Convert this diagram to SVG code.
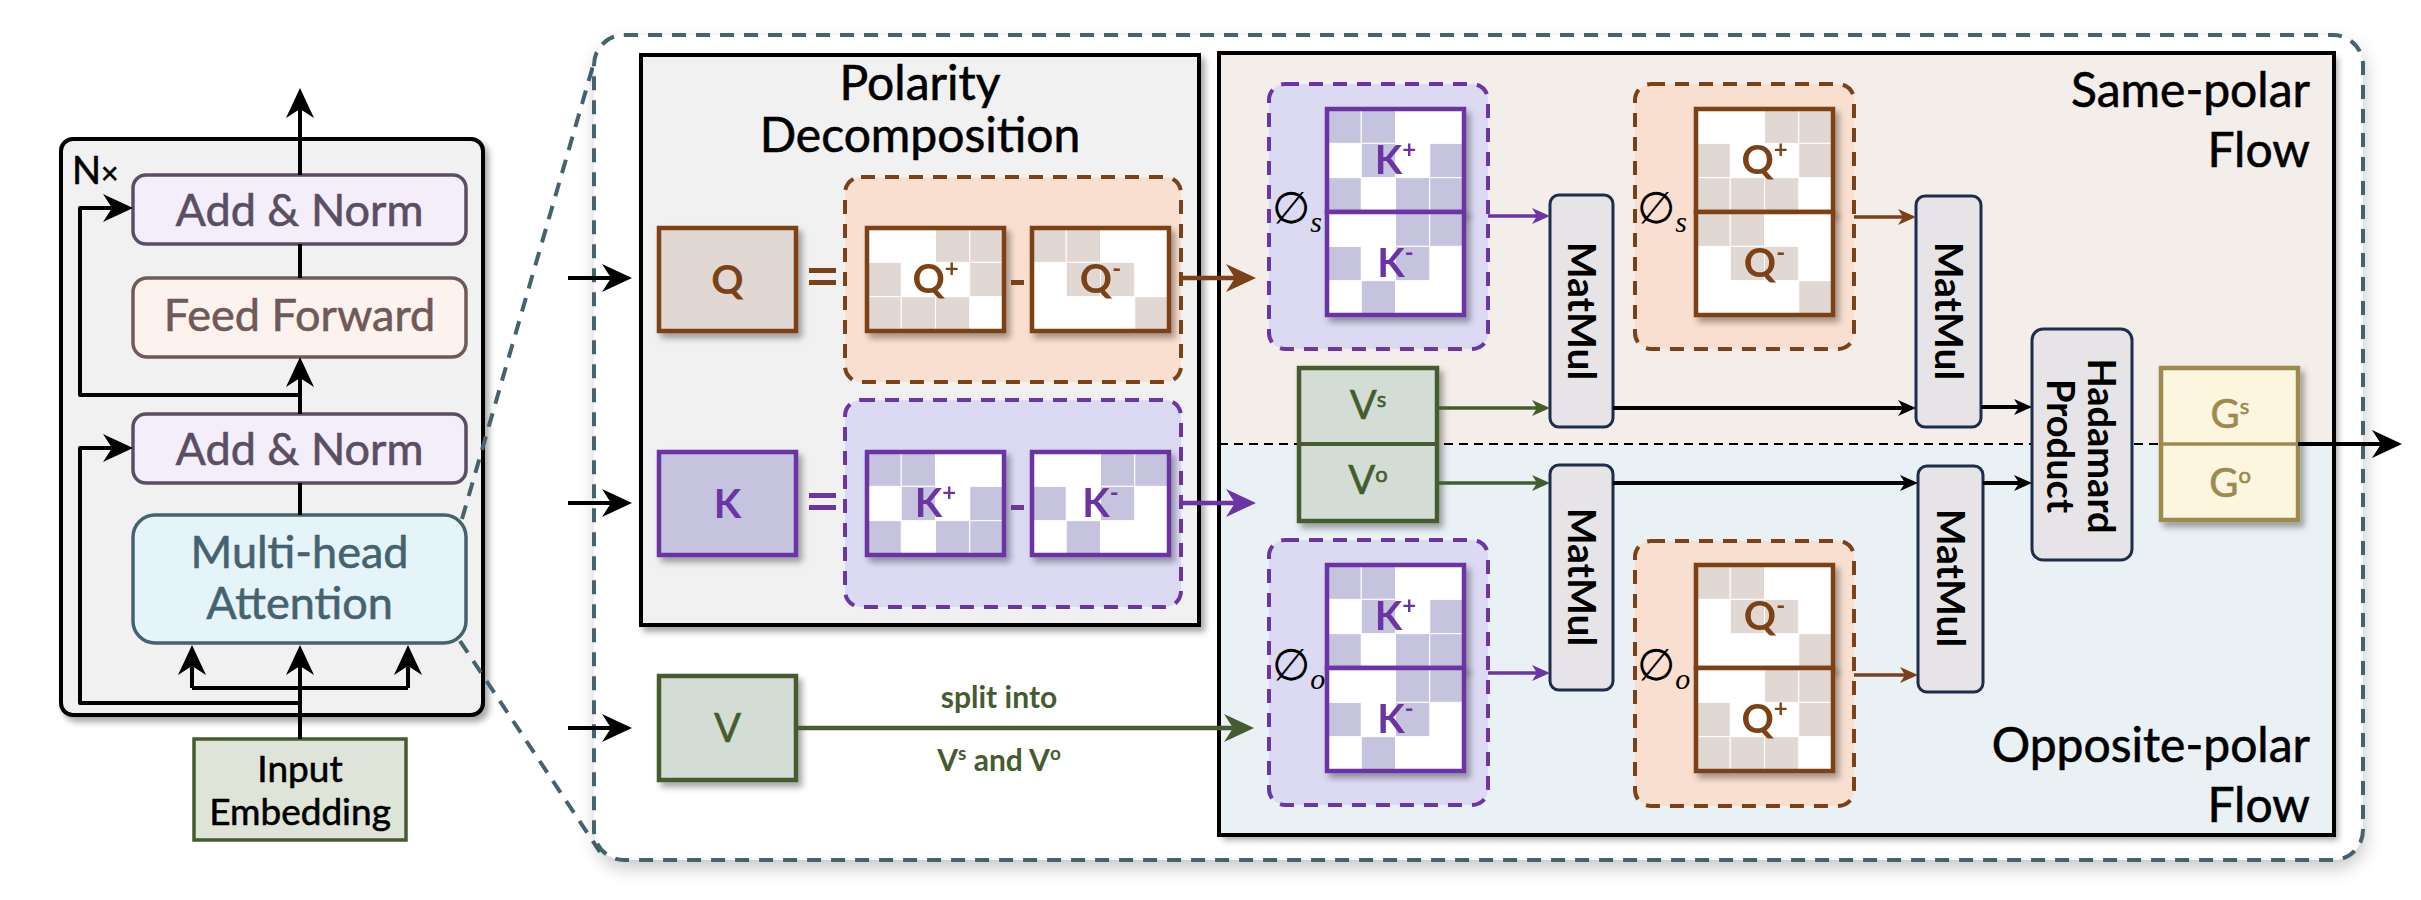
<svg xmlns="http://www.w3.org/2000/svg" xmlns:xlink="http://www.w3.org/1999/xlink" width="2421" height="900" viewBox="0 0 2421 900">
<defs>
<style>
text{font-family:Lato,"Open Sans","Liberation Sans",sans-serif;}
.med{stroke-width:0.6;stroke-linejoin:round;}
.ln{fill:none;stroke:#000;stroke-width:4;stroke-linejoin:round;}
.lnb{fill:none;stroke:#7b4219;stroke-width:4.5;}
.lnp{fill:none;stroke:#6b36a3;stroke-width:4.5;}
.lng{fill:none;stroke:#455c2f;stroke-width:4.5;}
.sb{fill:none;stroke:#000;stroke-width:4;}
.sbr{fill:none;stroke:#7b4219;stroke-width:3.5;}
.spu{fill:none;stroke:#6b36a3;stroke-width:3.5;}
.sgr{fill:none;stroke:#455c2f;stroke-width:3.5;}
.zoom{fill:none;stroke:#46626f;stroke-width:4;stroke-dasharray:14 10;}
.grpQ{fill:#f9dfcf;stroke:#7b4219;stroke-width:4;stroke-dasharray:14 10;}
.grpK{fill:#dcdaf3;stroke:#6b36a3;stroke-width:4;stroke-dasharray:14 10;}
.sq{fill:#e1d8d3;stroke:#fff;stroke-width:1;}
.sk{fill:#c6c3de;stroke:#fff;stroke-width:1;}
.mm{fill:#e6e4e6;stroke:#1f2d4d;stroke-width:3;}
.lblQ{fill:#7b4219;font-weight:700;font-size:40px;text-anchor:middle;}
.lblK{fill:#6b36a3;font-weight:700;font-size:40px;text-anchor:middle;}
.lblV{fill:#455c2f;font-size:40px;text-anchor:middle;stroke:#455c2f;stroke-width:0.6;}
.phi{font-family:"DejaVu Sans",sans-serif;font-size:44px;font-style:italic;fill:#000;}
.title{font-size:48px;fill:#000;stroke:#000;stroke-width:0.6;}
</style>
<filter id="sh" x="-20%" y="-20%" width="150%" height="150%"><feDropShadow dx="4" dy="5" stdDeviation="3" flood-color="#000" flood-opacity="0.35"/></filter>
<filter id="shBig" x="-5%" y="-10%" width="110%" height="125%"><feDropShadow dx="2" dy="8" stdDeviation="9" flood-color="#000" flood-opacity="0.22"/></filter>
<marker id="aBk" markerUnits="userSpaceOnUse" markerWidth="30" markerHeight="30" viewBox="0 0 30 30" refX="22" refY="15" orient="auto"><path d="M0,1 L30,15 L0,29 L9,15 z" fill="#000"/></marker>
<marker id="aBr" markerUnits="userSpaceOnUse" markerWidth="30" markerHeight="30" viewBox="0 0 30 30" refX="22" refY="15" orient="auto"><path d="M0,1 L30,15 L0,29 L9,15 z" fill="#7b4219"/></marker>
<marker id="aPu" markerUnits="userSpaceOnUse" markerWidth="30" markerHeight="30" viewBox="0 0 30 30" refX="22" refY="15" orient="auto"><path d="M0,1 L30,15 L0,29 L9,15 z" fill="#6b36a3"/></marker>
<marker id="aGr" markerUnits="userSpaceOnUse" markerWidth="30" markerHeight="30" viewBox="0 0 30 30" refX="22" refY="15" orient="auto"><path d="M0,1 L30,15 L0,29 L9,15 z" fill="#455c2f"/></marker>
<marker id="sBk" markerUnits="userSpaceOnUse" markerWidth="18" markerHeight="18" viewBox="0 0 18 18" refX="13" refY="9" orient="auto"><path d="M0,1 L18,9 L0,17 L5,9 z" fill="#000"/></marker>
<marker id="sBr" markerUnits="userSpaceOnUse" markerWidth="18" markerHeight="18" viewBox="0 0 18 18" refX="13" refY="9" orient="auto"><path d="M0,1 L18,9 L0,17 L5,9 z" fill="#7b4219"/></marker>
<marker id="sPu" markerUnits="userSpaceOnUse" markerWidth="18" markerHeight="18" viewBox="0 0 18 18" refX="13" refY="9" orient="auto"><path d="M0,1 L18,9 L0,17 L5,9 z" fill="#6b36a3"/></marker>
<marker id="sGr" markerUnits="userSpaceOnUse" markerWidth="18" markerHeight="18" viewBox="0 0 18 18" refX="13" refY="9" orient="auto"><path d="M0,1 L18,9 L0,17 L5,9 z" fill="#455c2f"/></marker>
<g id="mQp">
<rect width="137" height="103" fill="#fff"/>
<rect class="sq" x="68.5" y="0" width="34.25" height="34.33"/><rect class="sq" x="102.75" y="0" width="34.25" height="34.33"/>
<rect class="sq" x="0" y="34.33" width="34.25" height="34.33"/><rect class="sq" x="102.75" y="34.33" width="34.25" height="34.33"/>
<rect class="sq" x="0" y="68.67" width="34.25" height="34.33"/><rect class="sq" x="34.25" y="68.67" width="34.25" height="34.33"/><rect class="sq" x="68.5" y="68.67" width="34.25" height="34.33"/>
<rect width="137" height="103" fill="none" stroke="#7b4219" stroke-width="4.5"/>
<text class="lblQ" x="68.5" y="65">Q<tspan font-size="24" dy="-16">+</tspan></text>
</g>
<g id="mQm">
<rect width="137" height="103" fill="#fff"/>
<rect class="sq" x="0" y="0" width="34.25" height="34.33"/><rect class="sq" x="34.25" y="0" width="34.25" height="34.33"/>
<rect class="sq" x="34.25" y="34.33" width="34.25" height="34.33"/><rect class="sq" x="68.5" y="34.33" width="34.25" height="34.33"/>
<rect class="sq" x="102.75" y="68.67" width="34.25" height="34.33"/>
<rect width="137" height="103" fill="none" stroke="#7b4219" stroke-width="4.5"/>
<text class="lblQ" x="68.5" y="65">Q<tspan font-size="24" dy="-16">-</tspan></text>
</g>
<g id="mKp">
<rect width="137" height="103" fill="#fff"/>
<rect class="sk" x="0" y="0" width="34.25" height="34.33"/><rect class="sk" x="34.25" y="0" width="34.25" height="34.33"/>
<rect class="sk" x="34.25" y="34.33" width="34.25" height="34.33"/><rect class="sk" x="102.75" y="34.33" width="34.25" height="34.33"/>
<rect class="sk" x="0" y="68.67" width="34.25" height="34.33"/><rect class="sk" x="68.5" y="68.67" width="34.25" height="34.33"/><rect class="sk" x="102.75" y="68.67" width="34.25" height="34.33"/>
<rect width="137" height="103" fill="none" stroke="#6b36a3" stroke-width="4.5"/>
<text class="lblK" x="68.5" y="65">K<tspan font-size="24" dy="-16">+</tspan></text>
</g>
<g id="mKm">
<rect width="137" height="103" fill="#fff"/>
<rect class="sk" x="68.5" y="0" width="34.25" height="34.33"/><rect class="sk" x="102.75" y="0" width="34.25" height="34.33"/>
<rect class="sk" x="0" y="34.33" width="34.25" height="34.33"/><rect class="sk" x="68.5" y="34.33" width="34.25" height="34.33"/>
<rect class="sk" x="34.25" y="68.67" width="34.25" height="34.33"/>
<rect width="137" height="103" fill="none" stroke="#6b36a3" stroke-width="4.5"/>
<text class="lblK" x="68.5" y="65">K<tspan font-size="24" dy="-16">-</tspan></text>
</g>
</defs>

<rect width="2421" height="900" fill="#fff"/>

<!-- Left encoder panel -->
<g id="encoder-block">
<rect x="61" y="139" width="422" height="576" rx="12" fill="#f1f1f1" stroke="#000" stroke-width="4" filter="url(#sh)"/>
<text class="med" x="72" y="184" font-size="38" fill="#000" stroke="#000">N<tspan font-size="30">×</tspan></text>
</g>
<g id="add-norm-2">
<rect x="133" y="175" width="333" height="69" rx="13" fill="#f3eef9" stroke="#5b4e64" stroke-width="3.5"/>
<text class="med" x="299.5" y="226" font-size="45" fill="#5b4e64" stroke="#5b4e64" text-anchor="middle">Add &amp; Norm</text>
</g>
<g id="feed-forward">
<rect x="133" y="278" width="333" height="79" rx="14" fill="#fcf3ef" stroke="#6f5a5a" stroke-width="3.5"/>
<text class="med" x="299.5" y="331" font-size="45" fill="#6f5959" stroke="#6f5959" text-anchor="middle">Feed Forward</text>
</g>
<g id="add-norm-1">
<rect x="133" y="414" width="333" height="69" rx="13" fill="#f3eef9" stroke="#5b4e64" stroke-width="3.5"/>
<text class="med" x="299.5" y="465" font-size="45" fill="#5b4e64" stroke="#5b4e64" text-anchor="middle">Add &amp; Norm</text>
</g>
<g id="multi-head-attention">
<rect x="133" y="515" width="333" height="128" rx="22" fill="#e4f4f9" stroke="#46626f" stroke-width="3.5"/>
<text class="med" x="299.5" y="568" font-size="45" fill="#46626f" stroke="#46626f" text-anchor="middle">Multi-head</text>
<text class="med" x="299.5" y="619" font-size="45" fill="#46626f" stroke="#46626f" text-anchor="middle">Attention</text>
</g>
<g id="input-embedding">
<rect x="194" y="739" width="212" height="101" fill="#dfe4d9" stroke="#455c2f" stroke-width="3.5"/>
<text class="med" x="300" y="782" font-size="37" fill="#000" stroke="#000" text-anchor="middle">Input</text>
<text class="med" x="300" y="825" font-size="37" fill="#000" stroke="#000" text-anchor="middle">Embedding</text>
</g>

<!-- zoom lines -->
<g id="zoom-lines">
<path class="zoom" d="M462,519 L597,52"/>
<path class="zoom" d="M460,641 L600,852"/>
</g>

<!-- big dashed container -->
<g id="detail-panel">
<rect x="594" y="35" width="1769" height="825" rx="30" fill="#fff" filter="url(#shBig)"/>
<rect x="594" y="35" width="1769" height="825" rx="30" fill="none" stroke="#46626f" stroke-width="4" stroke-dasharray="14 10"/>
</g>

<!-- Polarity decomposition box -->
<g id="polarity-decomposition">
<rect x="641" y="55" width="558" height="570" fill="#f1f1f1" stroke="#000" stroke-width="4" filter="url(#sh)"/>
<text class="title" x="920" y="100" font-size="41" text-anchor="middle">Polarity</text>
<text class="title" x="920" y="152" font-size="41" text-anchor="middle">Decomposition</text>
</g>

<!-- Flow box -->
<g id="flow-panel">
<rect x="1219" y="53" width="1115" height="782" fill="#f3eeea" filter="url(#sh)"/>
<rect x="1219" y="444" width="1115" height="391" fill="#e9f1f5"/>
<line x1="1219" y1="444" x2="2334" y2="444" stroke="#000" stroke-width="2" stroke-dasharray="9 6"/>
<rect x="1219" y="53" width="1115" height="782" fill="none" stroke="#000" stroke-width="4"/>
<text class="title" x="2310" y="107" text-anchor="end">Same-polar</text>
<text class="title" x="2310" y="167" text-anchor="end">Flow</text>
<text class="title" x="2310" y="762" text-anchor="end">Opposite-polar</text>
<text class="title" x="2310" y="822" text-anchor="end">Flow</text>
</g>

<!-- Q row -->
<g id="q-box">
<rect x="659" y="228" width="137" height="103" fill="#e1d8d3" stroke="#7b4219" stroke-width="4.5" filter="url(#sh)"/>
<text class="lblQ" x="727.5" y="294" font-size="42">Q</text>
<rect x="809" y="268" width="27" height="5" fill="#7b4219"/><rect x="809" y="280" width="27" height="5" fill="#7b4219"/>
</g>
<g id="q-decomposition">
<rect class="grpQ" x="845" y="177" width="336" height="205" rx="16"/>
<use xlink:href="#mQp" x="867" y="228" filter="url(#sh)"/>
<rect x="1011" y="280" width="13" height="5" fill="#7b4219"/>
<use xlink:href="#mQm" x="1032" y="228" filter="url(#sh)"/>
</g>

<!-- K row -->
<g id="k-box">
<rect x="659" y="452" width="137" height="103" fill="#c6c3de" stroke="#6b36a3" stroke-width="4.5" filter="url(#sh)"/>
<text class="lblK" x="727.5" y="518" font-size="42">K</text>
<rect x="809" y="493" width="27" height="5" fill="#6b36a3"/><rect x="809" y="505" width="27" height="5" fill="#6b36a3"/>
</g>
<g id="k-decomposition">
<rect class="grpK" x="845" y="400" width="336" height="207" rx="16"/>
<use xlink:href="#mKp" x="867" y="452" filter="url(#sh)"/>
<rect x="1011" y="505" width="13" height="5" fill="#6b36a3"/>
<use xlink:href="#mKm" x="1032" y="452" filter="url(#sh)"/>
</g>

<!-- V -->
<g id="v-box">
<rect x="659" y="676" width="137" height="104" fill="#d4ddd5" stroke="#455c2f" stroke-width="4.5" filter="url(#sh)"/>
<text class="lblV" x="727.5" y="742" font-size="42">V</text>
</g>
<g id="split-label">
<text x="999" y="708" font-size="30" font-weight="700" fill="#455c2f" text-anchor="middle">split into</text>
<text x="999" y="771" font-size="30" font-weight="700" fill="#455c2f" text-anchor="middle">V<tspan font-size="19" dy="-11">s</tspan><tspan dy="11"> and V</tspan><tspan font-size="19" dy="-11">o</tspan></text>
</g>

<!-- Same-polar flow nodes -->
<g id="phi-s-k">
<rect class="grpK" x="1269" y="84" width="219" height="265" rx="16"/>
<use xlink:href="#mKp" x="1327" y="109" filter="url(#sh)"/>
<use xlink:href="#mKm" x="1327" y="212" filter="url(#sh)"/>
<text class="phi" x="1272" y="223">∅<tspan font-family="Liberation Serif,serif" font-size="30" dy="9">s</tspan></text>
</g>
<g id="phi-s-q">
<rect class="grpQ" x="1635" y="84" width="219" height="265" rx="16"/>
<use xlink:href="#mQp" x="1696" y="109" filter="url(#sh)"/>
<use xlink:href="#mQm" x="1696" y="212" filter="url(#sh)"/>
<text class="phi" x="1637" y="223">∅<tspan font-family="Liberation Serif,serif" font-size="30" dy="9">s</tspan></text>
</g>
<g id="v-split">
<rect x="1299" y="368" width="138" height="153" fill="#d4ddd5" stroke="#455c2f" stroke-width="4.5" filter="url(#sh)"/>
<line x1="1299" y1="444" x2="1437" y2="444" stroke="#455c2f" stroke-width="4"/>
<text class="lblV" x="1368" y="419">V<tspan font-size="22" dy="-12">s</tspan></text>
<text class="lblV" x="1368" y="494">V<tspan font-size="22" dy="-12">o</tspan></text>
</g>
<g id="matmul-1">
<rect class="mm" x="1550" y="195" width="63" height="232" rx="9"/>
<text transform="translate(1581.5,311) rotate(90)" x="0" y="14" font-size="39" font-weight="700" text-anchor="middle">MatMul</text>
</g>
<g id="matmul-2">
<rect class="mm" x="1916" y="196" width="65" height="231" rx="9"/>
<text transform="translate(1948.5,311) rotate(90)" x="0" y="14" font-size="39" font-weight="700" text-anchor="middle">MatMul</text>
</g>

<!-- Opposite-polar flow nodes -->
<g id="phi-o-k">
<rect class="grpK" x="1269" y="540" width="219" height="265" rx="16"/>
<use xlink:href="#mKp" x="1327" y="565" filter="url(#sh)"/>
<use xlink:href="#mKm" x="1327" y="668" filter="url(#sh)"/>
<text class="phi" x="1272" y="680">∅<tspan font-family="Liberation Serif,serif" font-size="30" dy="9">o</tspan></text>
</g>
<g id="phi-o-q">
<rect class="grpQ" x="1635" y="541" width="219" height="265" rx="16"/>
<use xlink:href="#mQm" x="1696" y="565" filter="url(#sh)"/>
<use xlink:href="#mQp" x="1696" y="668" filter="url(#sh)"/>
<text class="phi" x="1637" y="680">∅<tspan font-family="Liberation Serif,serif" font-size="30" dy="9">o</tspan></text>
</g>
<g id="matmul-3">
<rect class="mm" x="1550" y="465" width="63" height="225" rx="9"/>
<text transform="translate(1581.5,577) rotate(90)" x="0" y="14" font-size="39" font-weight="700" text-anchor="middle">MatMul</text>
</g>
<g id="matmul-4">
<rect class="mm" x="1918" y="466" width="65" height="226" rx="9"/>
<text transform="translate(1950.5,578) rotate(90)" x="0" y="14" font-size="39" font-weight="700" text-anchor="middle">MatMul</text>
</g>

<g id="hadamard-product">
<rect class="mm" x="2032" y="329" width="100" height="231" rx="11"/>
<text transform="translate(2082,446) rotate(90)" font-size="38" font-weight="700" text-anchor="middle"><tspan x="0" y="-6">Hadamard</tspan><tspan x="0" y="35">Product</tspan></text>
</g>
<g id="g-output">
<rect x="2161" y="368" width="137" height="152" fill="#fdf6de" stroke="#9c8a4f" stroke-width="4.5" filter="url(#sh)"/>
<line x1="2161" y1="444" x2="2298" y2="444" stroke="#9c8a4f" stroke-width="3.5"/>
<text class="med" x="2230" y="428" font-size="40" fill="#9c8a4f" stroke="#9c8a4f" text-anchor="middle">G<tspan font-size="22" dy="-14">s</tspan></text>
<text class="med" x="2230" y="497" font-size="40" fill="#9c8a4f" stroke="#9c8a4f" text-anchor="middle">G<tspan font-size="22" dy="-14">o</tspan></text>
</g>

<!-- connectors -->
<g id="connectors">
<path class="ln" d="M300,175 L300,96" marker-end="url(#aBk)"/>
<path class="ln" d="M300,278 L300,244"/>
<path class="ln" d="M300,414 L300,365" marker-end="url(#aBk)"/>
<path class="ln" d="M300,515 L300,483"/>
<path class="ln" d="M300,739 L300,653" marker-end="url(#aBk)"/>
<path class="ln" d="M192,688 L408,688"/>
<path class="ln" d="M192,688 L192,653" marker-end="url(#aBk)"/>
<path class="ln" d="M408,688 L408,653" marker-end="url(#aBk)"/>
<path class="ln" d="M300,703 L80,703 L80,448 L125,448" marker-end="url(#aBk)"/>
<path class="ln" d="M300,395 L80,395 L80,208 L125,208" marker-end="url(#aBk)"/>

<path class="ln" d="M568,278 L624,278" marker-end="url(#aBk)"/>
<path class="ln" d="M568,503 L624,503" marker-end="url(#aBk)"/>
<path class="ln" d="M568,728 L624,728" marker-end="url(#aBk)"/>

<path class="lnb" d="M1181,278 L1248,278" marker-end="url(#aBr)"/>
<path class="lnp" d="M1181,503 L1248,503" marker-end="url(#aPu)"/>
<path class="lng" d="M796,728 L1246,728" marker-end="url(#aGr)"/>

<path class="spu" d="M1488,216 L1545,216" marker-end="url(#sPu)"/>
<path class="sbr" d="M1854,217 L1911,217" marker-end="url(#sBr)"/>
<path class="sgr" d="M1437,408 L1545,408" marker-end="url(#sGr)"/>
<path class="sgr" d="M1437,483 L1545,483" marker-end="url(#sGr)"/>
<path class="sb" d="M1613,408 L1911,408" marker-end="url(#sBk)"/>
<path class="sb" d="M1981,407 L2027,407" marker-end="url(#sBk)"/>
<path class="sb" d="M1613,483 L1913,483" marker-end="url(#sBk)"/>
<path class="sb" d="M1983,483 L2027,483" marker-end="url(#sBk)"/>
<path class="spu" d="M1488,673 L1545,673" marker-end="url(#sPu)"/>
<path class="sbr" d="M1854,675 L1913,675" marker-end="url(#sBr)"/>

<path class="ln" d="M2298,444 L2394,444" marker-end="url(#aBk)"/>
</g>
</svg>
